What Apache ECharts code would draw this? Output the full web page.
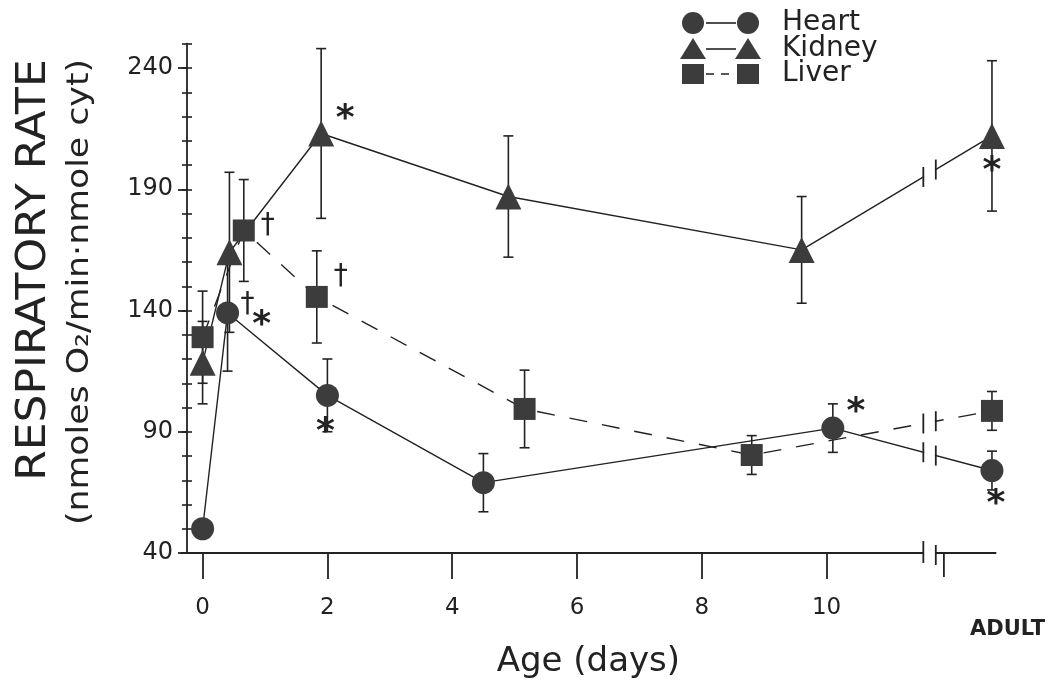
<!DOCTYPE html>
<html>
<head>
<meta charset="utf-8">
<script src="https://cdn.jsdelivr.net/npm/echarts@6/dist/echarts.min.js"></script>
<style>
  html, body { margin: 0; padding: 0; background: #fff; }
  #chart { width: 1054px; height: 683px; }
</style>
</head>
<body>
<div id="chart"></div>
<script>
// Respiratory rate of mitochondria by organ and age (mean ± error)
const ADULT = 12.65;                       // axis position of the adult group

const heartAge   = [0, 0.4, 2.0, 4.5, 10.1, ADULT];
const heartRate  = [50, 139, 105, 69, 91.5, 74];
const heartErr   = [0, 24, 15, 12, 10, 8];

const kidneyAge  = [0, 0.43, 1.9, 4.9, 9.6, ADULT];
const kidneyRate = [118.5, 164, 213, 187, 165, 212];
const kidneyErr  = [17, 33, 35, 25, 22, 31];

const liverAge   = [0, 0.66, 1.83, 5.16, 8.8, ADULT];
const liverRate  = [129, 173, 145.6, 99.4, 80.4, 98.6];
const liverErr   = [19, 21, 19, 16, 8, 8];

const yMajorTicks = [40, 90, 140, 190, 240];
const yMinorTicks = [40, 50, 60, 70, 80, 90, 100, 110, 120, 130, 140, 150, 160, 170, 180, 190, 200, 210, 220, 230, 240, 250];
const xTickValues = [0, 2, 4, 6, 8, 10];
const xLabelValues = [0, 2, 4, 6, 8, 10];
const adultLabel = 'ADULT';

// significance marks: organ, point index, symbol
const marks = [
  { organ: 'heart',  i: 1, text: '†', dx: 20, dy: -8 },
  { organ: 'heart',  i: 1, text: '*', dx: 34, dy: 4 },
  { organ: 'heart',  i: 2, text: '*', dx: -2, dy: 28 },
  { organ: 'heart',  i: 4, text: '*', dx: 23, dy: -24 },
  { organ: 'heart',  i: 5, text: '*', dx: 4, dy: 25 },
  { organ: 'kidney', i: 2, text: '*', dx: 24, dy: -23 },
  { organ: 'kidney', i: 5, text: '*', dx: 0, dy: 27 },
  { organ: 'liver',  i: 1, text: '†', dx: 24, dy: -5 },
  { organ: 'liver',  i: 2, text: '†', dx: 24, dy: -20 }
];

const X_MIN = -0.25, X_MAX = 13, Y_MIN = 40, Y_MAX = 250;
const BREAK = [11.55, 11.75];   // axis break between 12 days and adult
const AXIS_END = 12.72;
const ADULT_TICK = 11.88;
const ADULT_LABEL_AT = 12.9;

const FONT = 'DejaVu Sans';
const INK = '#222';
const MARK = '#3c3c3c';

const organs = {
  heart:  { age: heartAge,  rate: heartRate,  err: heartErr },
  kidney: { age: kidneyAge, rate: kidneyRate, err: kidneyErr },
  liver:  { age: liverAge,  rate: liverRate,  err: liverErr }
};

const pairs = o => o.age.map((x, i) => [x, o.rate[i]]);
const triples = o => o.age.map((x, i) => [x, o.rate[i], o.err[i]]);

function errorBar(params, api) {
  const x = api.value(0), y = api.value(1), e = api.value(2);
  if (!e) return null;
  const hi = api.coord([x, y + e]);
  const lo = api.coord([x, y - e]);
  const cap = 5;
  const style = { stroke: INK, lineWidth: 1.6 };
  return {
    type: 'group',
    children: [
      { type: 'line', shape: { x1: hi[0], y1: hi[1], x2: lo[0], y2: lo[1] }, style },
      { type: 'line', shape: { x1: hi[0] - cap, y1: hi[1], x2: hi[0] + cap, y2: hi[1] }, style },
      { type: 'line', shape: { x1: lo[0] - cap, y1: lo[1], x2: lo[0] + cap, y2: lo[1] }, style }
    ]
  };
}

// gap with two bars where a line crosses the axis break
function lineBreak(params, api) {
  const p = api.coord([api.value(0), api.value(1)]);
  const q = api.coord([api.value(2), api.value(3)]);
  const at = bx => {
    const px = api.coord([bx, Y_MIN])[0];
    const t = (px - p[0]) / (q[0] - p[0]);
    return [px, p[1] + t * (q[1] - p[1])];
  };
  const a = at(BREAK[0]), b = at(BREAK[1]);
  const h = 10;
  const st = { stroke: INK, lineWidth: 1.8 };
  return {
    type: 'group',
    children: [
      { type: 'line', shape: { x1: a[0] + 1, y1: a[1], x2: b[0] - 1, y2: b[1] }, style: { stroke: '#fff', lineWidth: 6 } },
      { type: 'line', shape: { x1: a[0], y1: a[1] - h, x2: a[0], y2: a[1] + h }, style: st },
      { type: 'line', shape: { x1: b[0], y1: b[1] - h, x2: b[0], y2: b[1] + h }, style: st }
    ]
  };
}

// horizontal axis line with its break and the adult tick
function xAxisLine(params, api) {
  const y = api.coord([0, Y_MIN])[1];
  const x0 = api.coord([X_MIN, Y_MIN])[0];
  const b1 = api.coord([BREAK[0], Y_MIN])[0];
  const b2 = api.coord([BREAK[1], Y_MIN])[0];
  const xe = api.coord([AXIS_END, Y_MIN])[0];
  const xt = api.coord([ADULT_TICK, Y_MIN])[0];
  const st = { stroke: INK, lineWidth: 1.8 };
  return {
    type: 'group',
    children: [
      { type: 'line', shape: { x1: x0 - 6, y1: y, x2: b1, y2: y }, style: st },
      { type: 'line', shape: { x1: b2, y1: y, x2: xe, y2: y }, style: st },
      { type: 'line', shape: { x1: b1, y1: y - 12, x2: b1, y2: y + 10 }, style: st },
      { type: 'line', shape: { x1: b2, y1: y - 8, x2: b2, y2: y + 12 }, style: st },
      { type: 'line', shape: { x1: xt, y1: y, x2: xt, y2: y + 24 }, style: st }
    ]
  };
}

function markLabel(params, api) {
  const m = marks[params.dataIndex];
  const p = api.coord([api.value(0), api.value(1)]);
  const star = m.text === '*';
  return {
    type: 'text',
    x: p[0] + m.dx,
    y: p[1] + m.dy + (star ? 9 : 0),
    style: {
      text: m.text,
      font: star ? 'bold 36px ' + FONT : '28px ' + FONT,
      fill: INK,
      textAlign: 'center',
      textVerticalAlign: 'middle'
    }
  };
}

const lineSeries = (name, o, symbol, size, dashed) => ({
  name,
  type: 'line',
  data: pairs(o),
  symbol,
  symbolSize: size,
  showAllSymbol: true,
  itemStyle: { color: MARK },
  lineStyle: { color: INK, width: 1.4, type: dashed ? [18, 15] : 'solid' },
  z: 3,
  animation: false
});

const errSeries = o => ({
  type: 'custom',
  renderItem: errorBar,
  data: triples(o),
  encode: { x: 0, y: 1 },
  z: 2,
  silent: true,
  animation: false
});

const breakData = ['heart', 'kidney', 'liver'].map(k => {
  const o = organs[k];
  const n = o.age.length;
  return [o.age[n - 2], o.rate[n - 2], o.age[n - 1], o.rate[n - 1]];
});

const markData = marks.map(m => [organs[m.organ].age[m.i], organs[m.organ].rate[m.i]]);

// legend drawn as symbol-line-symbol rows
const legendRows = [
  { label: 'Heart',  shape: 'circle',   dashed: false, y: 23 },
  { label: 'Kidney', shape: 'triangle', dashed: false, y: 49 },
  { label: 'Liver',  shape: 'square',   dashed: true,  y: 74 }
];
function legendSymbol(shape, cx, cy) {
  if (shape === 'circle') return { type: 'circle', shape: { cx, cy, r: 11 }, style: { fill: MARK } };
  if (shape === 'triangle') return { type: 'polygon', shape: { points: [[cx, cy - 11], [cx + 13, cy + 10], [cx - 13, cy + 10]] }, style: { fill: MARK } };
  return { type: 'rect', shape: { x: cx - 11, y: cy - 10, width: 22, height: 20 }, style: { fill: MARK } };
}
const legendGraphics = [];
legendRows.forEach(r => {
  legendGraphics.push(legendSymbol(r.shape, 693, r.y));
  legendGraphics.push(legendSymbol(r.shape, 748, r.y));
  legendGraphics.push({
    type: 'line',
    shape: { x1: 706, y1: r.y, x2: 736, y2: r.y },
    style: { stroke: INK, lineWidth: 1.6, lineDash: r.dashed ? [8, 7] : null }
  });
  legendGraphics.push({
    type: 'text', x: 782, y: r.y,
    style: { text: r.label, font: '28px ' + FONT, fill: INK, textAlign: 'left', textVerticalAlign: 'middle' }
  });
});

const yAxisBase = {
  type: 'value', min: Y_MIN, max: Y_MAX, position: 'left',
  splitLine: { show: false }
};

const option = {
  backgroundColor: '#fff',
  animation: false,
  grid: { left: 187, top: 43.75, width: 826.8, height: 509.25, containLabel: false, outerBoundsMode: 'none' },
  xAxis: {
    type: 'value', min: X_MIN, max: X_MAX,
    axisLine: { show: false, onZero: false },
    splitLine: { show: false },
    axisTick: { show: true, customValues: xTickValues, length: 26, lineStyle: { color: INK, width: 1.8 } },
    axisLabel: {
      customValues: xLabelValues.concat([ADULT_LABEL_AT]),
      margin: 44,
      color: INK,
      fontFamily: FONT,
      fontSize: 23,
      formatter: v => (v > 12 ? '{a|' + adultLabel + '}' : String(v)),
      rich: { a: { fontFamily: FONT, fontSize: 21, fontWeight: 'bold', color: INK, padding: [22, 0, 0, 0] } }
    },
    name: 'Age (days)',
    nameLocation: 'middle',
    nameGap: 88,
    nameTextStyle: { fontFamily: FONT, fontSize: 34, color: INK, padding: [0, 24, 0, 0] }
  },
  yAxis: [
    Object.assign({}, yAxisBase, {
      axisLine: { show: true, onZero: false, lineStyle: { color: INK, width: 1.8 } },
      axisTick: { show: true, customValues: yMajorTicks, length: 9, lineStyle: { color: INK, width: 1.8 } },
      axisLabel: { customValues: yMajorTicks, margin: 14, color: INK, fontFamily: FONT, fontSize: 24 }
    }),
    Object.assign({}, yAxisBase, {
      axisLine: { show: false, onZero: false },
      axisTick: { show: true, inside: true, customValues: yMinorTicks, length: 5, lineStyle: { color: INK, width: 1.6 } },
      axisLabel: { show: false }
    }),
    Object.assign({}, yAxisBase, {
      axisLine: { show: false, onZero: false },
      axisTick: { show: true, customValues: yMinorTicks, length: 5, lineStyle: { color: INK, width: 1.6 } },
      axisLabel: { show: false }
    })
  ],
  graphic: [
    {
      type: 'text', x: 35, y: 270, rotation: Math.PI / 2, scaleX: 1.1,
      style: { text: 'RESPIRATORY RATE', font: '40px ' + FONT, fill: INK, textAlign: 'center', textVerticalAlign: 'middle' }
    },
    {
      type: 'text', x: 80, y: 292, rotation: Math.PI / 2, scaleX: 1.12,
      style: { text: '(nmoles O₂/min·nmole cyt)', font: '31px ' + FONT, fill: INK, textAlign: 'center', textVerticalAlign: 'middle' }
    }
  ].concat(legendGraphics),
  series: [
    { type: 'custom', renderItem: xAxisLine, data: [[X_MIN, Y_MIN]], encode: { x: 0, y: 1 }, z: 1, silent: true },
    errSeries(organs.heart),
    errSeries(organs.kidney),
    errSeries(organs.liver),
    lineSeries('Heart', organs.heart, 'circle', 23, false),
    lineSeries('Kidney', organs.kidney, 'triangle', 26, false),
    lineSeries('Liver', organs.liver, 'rect', 22, true),
    { type: 'custom', renderItem: lineBreak, data: breakData, encode: { x: [0, 2], y: [1, 3] }, z: 4, silent: true },
    { type: 'custom', renderItem: markLabel, data: markData, encode: { x: 0, y: 1 }, z: 5, silent: true }
  ]
};

const chart = echarts.init(document.getElementById('chart'), null, { renderer: 'canvas' });
chart.setOption(option);
</script>
</body>
</html>
